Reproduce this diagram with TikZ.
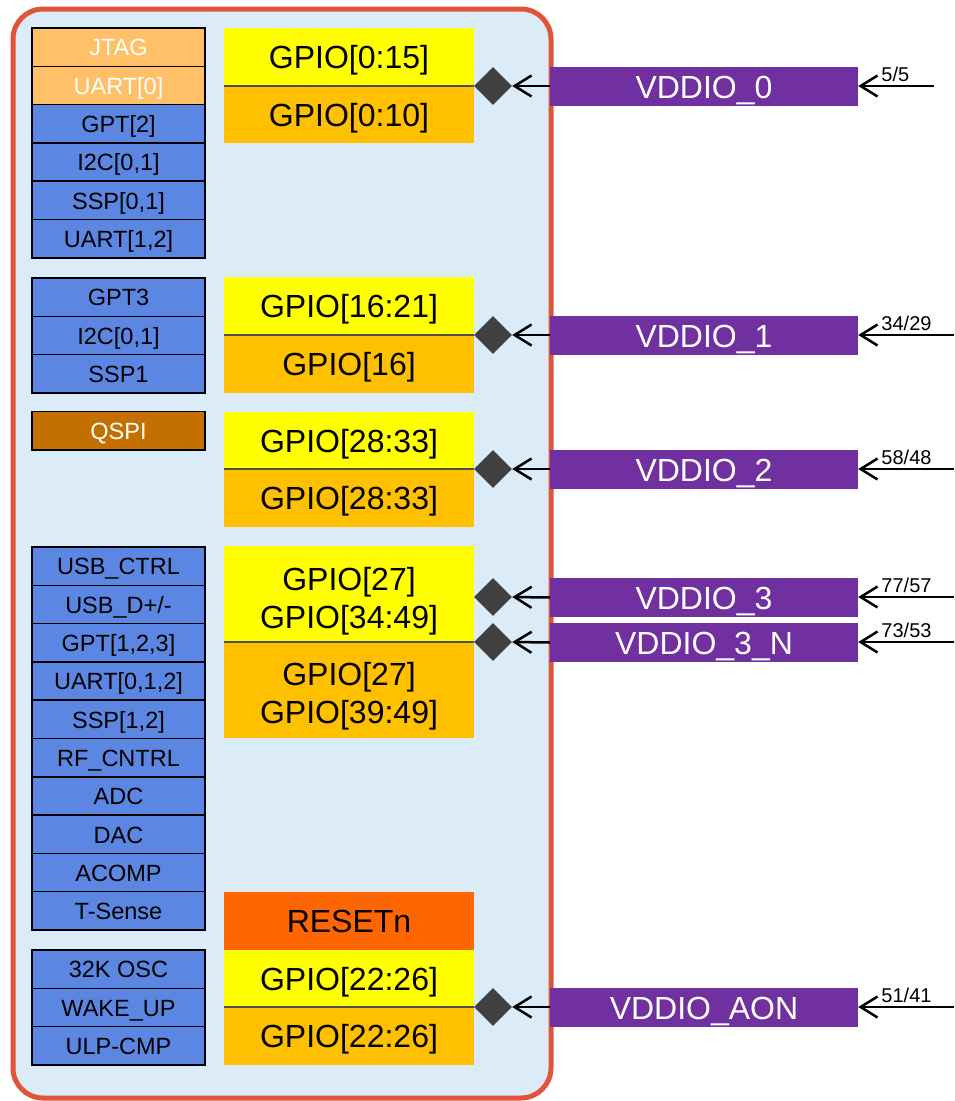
\documentclass[tikz,border=0pt]{standalone}
\usepackage{fontspec}
\setmainfont{Liberation Sans}
\usetikzlibrary{shapes.geometric,arrows.meta}
\definecolor{bgblue}{HTML}{DCEBF8}
\definecolor{framecol}{HTML}{E1543A}
\definecolor{cellblue}{HTML}{5B87E3}
\definecolor{lightor}{HTML}{FFC068}
\definecolor{qspibrown}{HTML}{C47000}
\definecolor{gyellow}{HTML}{FFFF00}
\definecolor{gorange}{HTML}{FFC000}
\definecolor{rstcol}{HTML}{FF6600}
\definecolor{vpurple}{HTML}{7030A0}
\definecolor{diacol}{HTML}{404040}
\definecolor{divcol}{HTML}{505050}
\tikzset{
  cell/.style={draw=black, line width=1.5pt, fill=cellblue, minimum width=173pt, minimum height=38.3pt, inner sep=0pt, font=\fontsize{23.5}{25}\selectfont, text=black, text height=17.5pt, text depth=0pt},
  lcell/.style={cell, fill=lightor, text=white},
  qcell/.style={cell, fill=qspibrown, text=white},
  gpio/.style={minimum width=250pt, inner sep=0pt, font=\fontsize{32}{38.5}\selectfont, text=black},
  gone/.style={gpio, text height=23pt, text depth=0pt},
  gyel/.style={gone, fill=gyellow},
  gora/.style={gone, fill=gorange},
  grst/.style={gone, fill=rstcol},
  gtwo/.style={gpio, align=center, minimum width=0pt},
  divline/.style={draw=divcol, line width=2.5pt},
  dia/.style={diamond, fill=diacol, minimum width=38pt, minimum height=38pt, inner sep=0pt},
  vbox/.style={fill=vpurple, minimum width=308pt, minimum height=39pt, inner sep=0pt, text=white, font=\fontsize{32}{36}\selectfont, text height=24pt, text depth=0pt},
  arr/.style={-{Straight Barb[length=17pt,width=21pt]}, line width=2.5pt, black},
  vlab/.style={font=\fontsize{20}{22}\selectfont, anchor=base west, inner sep=0pt}
}
\begin{document}
\begin{tikzpicture}[x=1pt,y=-1pt]
\useasboundingbox (0,0) rectangle (954,1101);
% outer frame
\draw[rounded corners=30pt, line width=5pt, draw=framecol, fill=bgblue] (13,9) rectangle (551,1098);

% left cells group 1
\node[lcell] (a1) at (118.5,47.15) {JTAG};
\node[lcell] (a2) at (118.5,85.45) {UART[0]};
\foreach \t [count=\i from 3] in {GPT[2],{I2C[0,1]},{SSP[0,1]},{UART[1,2]}}
  \node[cell] (a\i) at (118.5,{47.15+(\i-1)*38.3}) {\t};
% group 2
\foreach \t [count=\i] in {GPT3,{I2C[0,1]},SSP1}
  \node[cell] (b\i) at (118.5,{297.15+(\i-1)*38.3}) {\t};
% QSPI
\node[qcell] (q1) at (118.5,430.6) {QSPI};
% group 3
\foreach \t [count=\i] in {USB\_CTRL,USB\_D+/-,{GPT[1,2,3]},{UART[0,1,2]},{SSP[1,2]},RF\_CNTRL,ADC,DAC,ACOMP,T-Sense}
  \node[cell] (c\i) at (118.5,{566.15+(\i-1)*38.3}) {\t};
% group 4
\foreach \t [count=\i] in {32K OSC,WAKE\_UP,ULP-CMP}
  \node[cell] (d\i) at (118.5,{969.15+(\i-1)*38.3}) {\t};

% GPIO blocks
\node[gyel, minimum height=58pt] (y0) at (349,57) {GPIO[0:15]};
\node[gora, minimum height=57pt] (o0) at (349,114.5) {GPIO[0:10]};
\node[gyel, minimum height=58pt] (y1) at (349,306) {GPIO[16:21]};
\node[gora, minimum height=58pt] (o1) at (349,364) {GPIO[16]};
\node[gyel, minimum height=57pt] (y2) at (349,440.5) {GPIO[28:33]};
\node[gora, minimum height=58pt] (o2) at (349,498) {GPIO[28:33]};
\node[gyel, minimum height=96pt] (y3) at (349,594) {};
\node[gora, minimum height=96pt] (o3) at (349,690) {};
\node[gtwo] (y3t) at (349,601) {GPIO[27]\\GPIO[34:49]};
\node[gtwo] (o3t) at (349,696) {GPIO[27]\\GPIO[39:49]};
\node[grst, minimum height=58pt] (rst) at (349,921) {RESETn};
\node[gyel, minimum height=57pt] (y4) at (349,978.5) {GPIO[22:26]};
\node[gora, minimum height=58pt] (o4) at (349,1036) {GPIO[22:26]};
\foreach \k in {0,1,2,3,4}
  \draw[divline] (y\k.south west) -- (y\k.south east);

% diamonds
\node[dia] (m0) at (493,86) {};
\node[dia] (m1) at (493,335) {};
\node[dia] (m2) at (493,469) {};
\node[dia] (m3) at (493,597) {};
\node[dia] (m3n) at (493,642) {};
\node[dia] (m4) at (493,1007) {};

% supply boxes
\node[vbox] (v0) at (704,86) {VDDIO\_0};
\node[vbox] (v1) at (704,335) {VDDIO\_1};
\node[vbox] (v2) at (704,469) {VDDIO\_2};
\node[vbox] (v3) at (704,597.5) {VDDIO\_3};
\node[vbox] (v3n) at (704,642.5) {VDDIO\_3\_N};
\node[vbox] (v4) at (704,1007) {VDDIO\_AON};

% right end coordinates
\coordinate (r0) at (934,86);
\coordinate (r1) at (954,335);
\coordinate (r2) at (954,469);
\coordinate (r3) at (954,597);
\coordinate (r3n) at (954,642);
\coordinate (r4) at (954,1007);

% connectors box -> diamond
\foreach \k in {0,1,2,3,3n,4}
  \draw[arr] (v\k.west) -- (m\k.east);

% incoming supply lines with labels
\draw[arr] (r0) -- (v0.east |- r0) node[vlab, at end, xshift=22pt, yshift=5pt] {5/5};
\draw[arr] (r1) -- (v1.east |- r1) node[vlab, at end, xshift=22pt, yshift=5pt] {34/29};
\draw[arr] (r2) -- (v2.east |- r2) node[vlab, at end, xshift=22pt, yshift=5pt] {58/48};
\draw[arr] (r3) -- (v3.east |- r3) node[vlab, at end, xshift=22pt, yshift=5pt] {77/57};
\draw[arr] (r3n) -- (v3n.east |- r3n) node[vlab, at end, xshift=22pt, yshift=5pt] {73/53};
\draw[arr] (r4) -- (v4.east |- r4) node[vlab, at end, xshift=22pt, yshift=5pt] {51/41};
\end{tikzpicture}
\end{document}
